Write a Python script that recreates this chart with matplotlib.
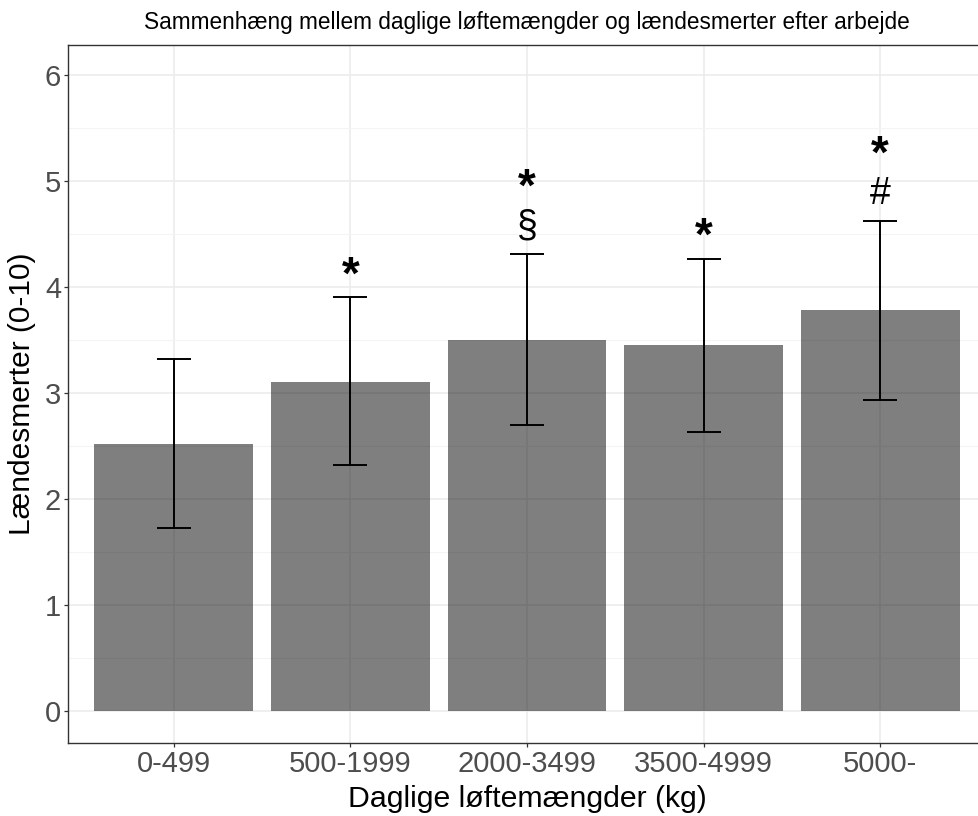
import matplotlib
matplotlib.use("Agg")
import matplotlib.pyplot as plt
import numpy as np
from matplotlib.ticker import MultipleLocator

plt.rcParams["font.family"] = ["Liberation Sans", "DejaVu Sans"]

# Data
categories = ["0-499", "500-1999", "2000-3499", "3500-4999", "5000-"]
means = [2.52, 3.10, 3.50, 3.45, 3.78]
lower = [1.73, 2.32, 2.70, 2.63, 2.93]
upper = [3.32, 3.90, 4.31, 4.26, 4.62]
# significance markers, listed bottom to top above each error bar
markers = [[], ["*"], ["§", "*"], ["*"], ["#", "*"]]

W, H = 979, 816
fig = plt.figure(figsize=(W / 100, H / 100), dpi=100)
fig.patch.set_facecolor("white")

# panel placed in pixel units (extends slightly past the right edge)
left, bottom, width, height = 68, 73, 918, 698
ax = fig.add_axes([left / W, bottom / H, width / W, height / H])

x = np.arange(1, len(categories) + 1)
means_a = np.array(means)
err = np.vstack([means_a - np.array(lower), np.array(upper) - means_a])

ax.bar(x, means, width=0.9, color="black", alpha=0.5, zorder=2, linewidth=0)
ax.errorbar(x, means, yerr=err, fmt="none", ecolor="black", elinewidth=1.4,
            capsize=12.5, capthick=1.4, zorder=3)

# stacked markers above the error bars
for xi, up, labs in zip(x, upper, markers):
    for k, lab in enumerate(labs):
        y = up + 0.28 + 0.42 * k
        if lab == "*":
            ax.text(xi, y - 0.08, lab, ha="center", va="center", fontsize=33,
                    fontweight="bold", color="black", zorder=4)
        else:
            ax.text(xi, y - 0.02, lab, ha="center", va="center", fontsize=27,
                    color="black", zorder=4)

ax.set_xlim(0.4, 5.6)
ax.set_ylim(-0.30, 6.28)
ax.set_xticks(x)
ax.set_xticklabels(categories)
ax.yaxis.set_major_locator(MultipleLocator(1))
ax.yaxis.set_minor_locator(MultipleLocator(0.5))

ax.grid(which="major", color="#EBEBEB", linewidth=1.1, zorder=0)
ax.grid(which="minor", axis="y", color="#F4F4F4", linewidth=0.8, zorder=0)
ax.set_axisbelow(True)

for s in ["left", "bottom", "top"]:
    ax.spines[s].set_color("#333333")
    ax.spines[s].set_linewidth(1.0)
ax.spines["right"].set_visible(False)

ax.tick_params(axis="both", which="major", length=3, width=0.9, color="#333333",
               labelsize=21, labelcolor="#4D4D4D", pad=2)
ax.tick_params(axis="y", which="minor", length=0)

ax.set_xlabel("Daglige løftemængder (kg)", fontsize=21.8, color="black", labelpad=5)
ax.set_ylabel("Lændesmerter (0-10)", fontsize=21.5, color="black", labelpad=6)

fig.text(527 / W, 1 - 22 / H,
         "Sammenhæng mellem daglige løftemængder og lændesmerter efter arbejde",
         ha="center", va="center", fontsize=16.3, color="black")

fig.savefig("out.png", dpi=100, facecolor="white")
